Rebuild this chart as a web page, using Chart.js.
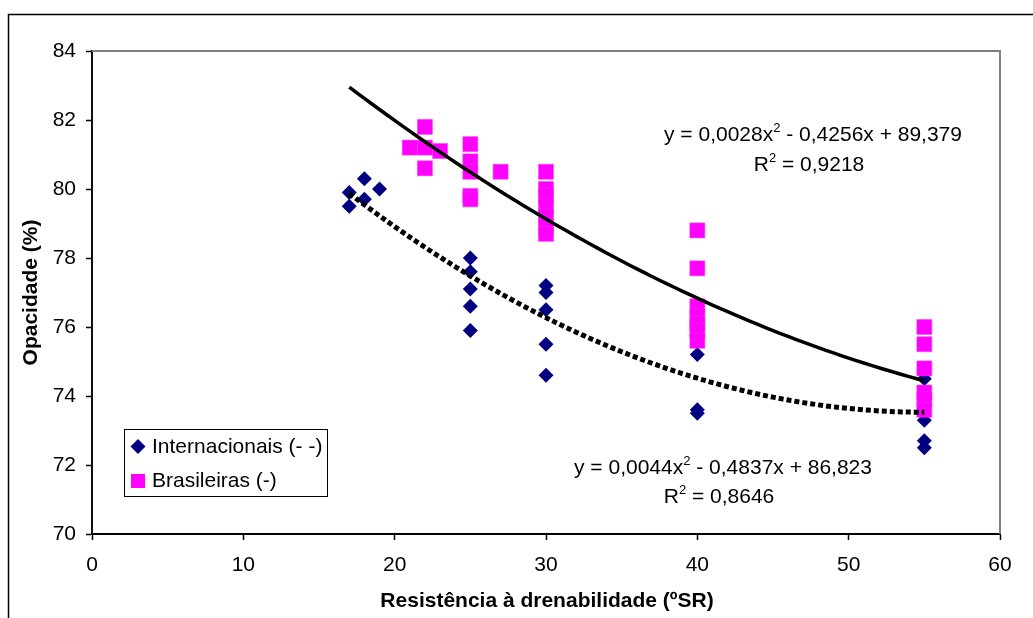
<!DOCTYPE html>
<html>
<head>
<meta charset="utf-8">
<script src="https://cdn.jsdelivr.net/npm/chart.js@4"></script>
<style>
  html, body { margin: 0; padding: 0; background: #fff; }
  canvas { display: block; }
</style>
</head>
<body>
<canvas id="chart" width="1033" height="618"></canvas>
<script>
// Internacionais (diamonds)
const intX = [17, 17, 18, 18, 19, 25, 25, 25, 25, 25, 30, 30, 30, 30, 30, 40, 40, 40, 55, 55, 55, 55];
const intY = [79.9, 79.5, 80.3, 79.7, 80.0, 78.0, 77.6, 77.1, 76.6, 75.9, 77.2, 77.0, 76.5, 75.5, 74.6, 75.2, 73.6, 73.5, 74.5, 73.3, 72.7, 72.5];

// Brasileiras (squares)
const braX = [21, 22, 22, 22, 23, 25, 25, 25, 25, 25, 27, 30, 30, 30, 30, 30, 30, 30, 40, 40, 40, 40, 40, 40, 40, 55, 55, 55, 55, 55, 55];
const braY = [81.2, 81.8, 81.2, 80.6, 81.1, 81.3, 80.8, 80.5, 79.8, 79.7, 80.5, 80.5, 80.0, 79.8, 79.5, 79.2, 78.9, 78.7, 78.8, 77.7, 76.6, 76.3, 76.1, 75.9, 75.6, 76.0, 75.5, 74.8, 74.1, 73.9, 73.6];

// polynomial trendlines, coefficients [a, b, c] for a*x^2 + b*x + c
const intCoef = [0.0044, -0.4837, 86.823];
const braCoef = [0.0028, -0.4256, 89.379];
const intR2 = '0,8646';
const braR2 = '0,9218';
const trendRange = [17, 55];

const xTicks = [0, 10, 20, 30, 40, 50, 60];
const yTicks = [70, 72, 74, 76, 78, 80, 82, 84];

const FONT = '"Liberation Sans", Arial, sans-serif';
const NAVY = '#000080';
const MAGENTA = '#FF00FF';

function pts(xs, ys) {
  return xs.map((x, i) => ({ x: x, y: ys[i] }));
}

function curve(c) {
  const out = [];
  for (let x = trendRange[0]; x <= trendRange[1] + 1e-9; x += 0.5) {
    out.push({ x: x, y: c[0] * x * x + c[1] * x + c[2] });
  }
  return out;
}

function coefText(v) {
  return Math.abs(v).toString().replace('.', ',');
}

// equation "y = ax² - bx + c" with a raised 2, centred on cx
function drawEquation(ctx, c, cx, cy) {
  const big = '21px ' + FONT;
  const small = '13px ' + FONT;
  const parts = [
    [big, 'y = ' + coefText(c[0]) + 'x', 0],
    [small, '2', -9],
    [big, ' ' + (c[1] < 0 ? '-' : '+') + ' ' + coefText(c[1]) + 'x ' + (c[2] < 0 ? '-' : '+') + ' ' + coefText(c[2]), 0]
  ];
  let w = 0;
  parts.forEach(p => { ctx.font = p[0]; w += ctx.measureText(p[1]).width; });
  let x = cx - w / 2;
  ctx.textBaseline = 'alphabetic';
  ctx.textAlign = 'left';
  parts.forEach(p => {
    ctx.font = p[0];
    ctx.fillText(p[1], x, cy + p[2]);
    x += ctx.measureText(p[1]).width;
  });
}

function drawR2(ctx, r2, cx, cy) {
  const a = 'R', b = '2', c = ' = ' + r2;
  ctx.font = '21px ' + FONT;
  const wa = ctx.measureText(a).width, wc = ctx.measureText(c).width;
  ctx.font = '13px ' + FONT;
  const wb = ctx.measureText(b).width;
  let x = cx - (wa + wb + wc) / 2;
  ctx.textAlign = 'left';
  ctx.textBaseline = 'alphabetic';
  ctx.font = '21px ' + FONT;
  ctx.fillText(a, x, cy);
  x += wa;
  ctx.font = '13px ' + FONT;
  ctx.fillText(b, x, cy - 9);
  x += wb;
  ctx.font = '21px ' + FONT;
  ctx.fillText(c, x, cy);
}

const decorations = {
  id: 'decorations',
  beforeDraw(chart) {
    const ctx = chart.ctx;
    ctx.save();
    ctx.fillStyle = '#fff';
    ctx.fillRect(0, 0, chart.width, chart.height);
    // outer frame
    ctx.strokeStyle = '#000';
    ctx.lineWidth = 1.5;
    ctx.beginPath();
    ctx.moveTo(8.5, chart.height);
    ctx.lineTo(8.5, 14.5);
    ctx.lineTo(chart.width, 14.5);
    ctx.stroke();
    ctx.restore();
  },
  beforeDatasetsDraw(chart) {
    const ctx = chart.ctx;
    const a = chart.chartArea;
    ctx.save();
    ctx.strokeStyle = '#808080';
    ctx.lineWidth = 2;
    ctx.beginPath();
    ctx.moveTo(a.left, a.top);
    ctx.lineTo(a.right, a.top);
    ctx.lineTo(a.right, a.bottom);
    ctx.stroke();
    ctx.restore();
  },
  afterDraw(chart) {
    const ctx = chart.ctx;
    const a = chart.chartArea;
    ctx.save();
    ctx.fillStyle = '#000';

    // axis titles
    ctx.font = 'bold 21px ' + FONT;
    ctx.textAlign = 'center';
    ctx.textBaseline = 'middle';
    ctx.fillText('Resistência à drenabilidade (ºSR)', 547, 601);
    ctx.save();
    ctx.translate(31, (a.top + a.bottom) / 2);
    ctx.rotate(-Math.PI / 2);
    ctx.fillText('Opacidade (%)', 0, 0);
    ctx.restore();

    // trendline equations
    drawEquation(ctx, braCoef, 813, 141);
    drawR2(ctx, braR2, 809, 171);
    drawEquation(ctx, intCoef, 723, 474);
    drawR2(ctx, intR2, 719, 503);

    // legend
    const lx = 124.5, ly = 429.5, lw = 203, lh = 67;
    ctx.fillStyle = '#fff';
    ctx.fillRect(lx, ly, lw, lh);
    ctx.strokeStyle = '#000';
    ctx.lineWidth = 1;
    ctx.strokeRect(lx, ly, lw, lh);

    const ds = chart.data.datasets;
    ctx.fillStyle = ds[0].backgroundColor;
    ctx.beginPath();
    ctx.moveTo(138, 439);
    ctx.lineTo(145.5, 446.5);
    ctx.lineTo(138, 454);
    ctx.lineTo(130.5, 446.5);
    ctx.closePath();
    ctx.fill();
    ctx.fillStyle = ds[1].backgroundColor;
    ctx.fillRect(131, 474, 14, 14);

    ctx.fillStyle = '#000';
    ctx.font = '21px ' + FONT;
    ctx.textAlign = 'left';
    ctx.textBaseline = 'middle';
    ctx.fillText(ds[0].label, 152, 447);
    ctx.fillText(ds[1].label, 152, 481);
    ctx.restore();
  }
};

const tickFont = { family: FONT, size: 21 };

new Chart(document.getElementById('chart'), {
  type: 'scatter',
  data: {
    datasets: [
      {
        label: 'Internacionais (- -)',
        data: pts(intX, intY),
        backgroundColor: NAVY,
        borderColor: NAVY,
        pointStyle: 'rectRot',
        pointRadius: 7.5,
        pointBorderWidth: 0,
        order: 2
      },
      {
        label: 'Brasileiras (-)',
        data: pts(braX, braY),
        backgroundColor: MAGENTA,
        borderColor: '#FF33FF',
        pointStyle: 'rect',
        pointRadius: 10.6,
        pointBorderWidth: 0.5,
        order: 1
      },
      {
        label: 'trend int',
        data: curve(intCoef),
        showLine: true,
        borderColor: '#000',
        borderWidth: 5,
        borderDash: [5, 3],
        borderCapStyle: 'butt',
        pointRadius: 0,
        tension: 0,
        order: 0
      },
      {
        label: 'trend bra',
        data: curve(braCoef),
        showLine: true,
        borderColor: '#000',
        borderWidth: 3.5,
        pointRadius: 0,
        tension: 0,
        order: 0
      }
    ]
  },
  options: {
    responsive: false,
    animation: false,
    devicePixelRatio: 1,
    events: [],
    layout: { padding: { left: 0, top: 51, right: 33, bottom: 0 } },
    plugins: {
      legend: { display: false },
      tooltip: { enabled: false }
    },
    scales: {
      x: {
        type: 'linear',
        min: 0,
        max: 60,
        afterFit(s) { s.height = 84; },
        afterBuildTicks(s) { s.ticks = xTicks.map(v => ({ value: v })); },
        ticks: { font: tickFont, color: '#000', padding: 13 },
        grid: { drawOnChartArea: false, tickLength: 6, color: '#000', tickWidth: 1.5 },
        border: { color: '#000', width: 2 }
      },
      y: {
        type: 'linear',
        min: 70,
        max: 84,
        afterFit(s) { s.width = 92; },
        afterBuildTicks(s) { s.ticks = yTicks.map(v => ({ value: v })); },
        ticks: { font: tickFont, color: '#000', padding: 10 },
        grid: { drawOnChartArea: false, tickLength: 6, color: '#000', tickWidth: 1.5 },
        border: { color: '#111', width: 2 }
      }
    }
  },
  plugins: [decorations]
});
</script>
</body>
</html>
